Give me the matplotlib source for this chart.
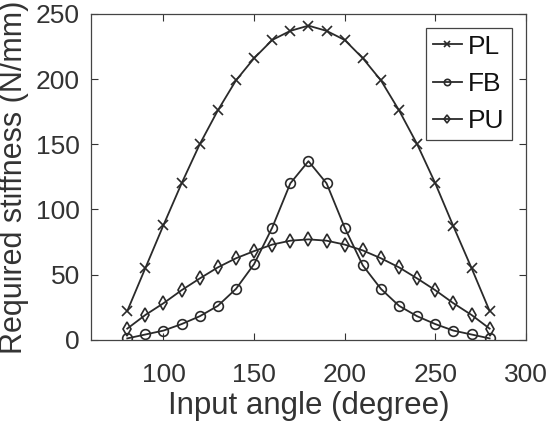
import matplotlib
matplotlib.use('Agg')
import matplotlib.pyplot as plt

plt.rcParams['font.family'] = ['Liberation Sans', 'DejaVu Sans']

angle = [80, 90, 100, 110, 120, 130, 140, 150, 160, 170, 180,
         190, 200, 210, 220, 230, 240, 250, 260, 270, 280]
pl = [22, 55, 88, 120, 150, 176, 199, 216, 230, 237, 241,
      237, 230, 216, 199, 176, 150, 120, 87, 55, 22]
fb = [1, 4, 7, 12, 18, 26, 39, 58, 86, 120, 137,
      120, 86, 57, 39, 26, 18, 12, 7, 4, 1]
pu = [8.5, 19, 28, 38, 47, 55.5, 62.5, 68, 73, 76, 77,
      76, 73, 68.5, 62.5, 55.5, 47, 38, 28, 19, 8.5]

xticks = [100, 150, 200, 250, 300]
yticks = [0, 50, 100, 150, 200, 250]

text_col = '#333333'
line_col = '#2a2a2a'

fig = plt.figure(figsize=(5.47, 4.22), dpi=100)
ax = fig.add_axes([0.1664, 0.195, 0.795, 0.772])

ax.plot(angle, pl, color=line_col, lw=1.3, marker='x', ms=7, mew=1.2, label='PL')
ax.plot(angle, fb, color=line_col, lw=1.3, marker='o', ms=7, mew=1.2, mfc='none', label='FB')
ax.plot(angle, pu, color=line_col, lw=1.3, marker='d', ms=7, mew=1.2, mfc='none', label='PU')

ax.set_xlim(60, 300)
ax.set_ylim(0, 250)
ax.set_xticks(xticks)
ax.set_yticks(yticks)
ax.tick_params(direction='in', top=True, right=True, length=5, width=0.8,
               colors=text_col, labelsize=19)
ax.tick_params(axis='x', pad=17)
ax.tick_params(axis='y', pad=8)
for s in ax.spines.values():
    s.set_color('#444444')
    s.set_linewidth(0.9)

ax.set_xlabel('Input angle (degree)', fontsize=22.5, color=text_col, labelpad=2.5)
ax.set_ylabel('Required stiffness (N/mm)', fontsize=22, color=text_col, labelpad=5)

leg = ax.legend(loc='upper right', bbox_to_anchor=(0.968, 0.958), fontsize=19,
                handlelength=1.1, handletextpad=0.25, borderpad=0.27,
                labelspacing=0.5, fancybox=False, framealpha=1,
                borderaxespad=0, markerscale=0.65)
leg.get_frame().set_edgecolor('#444444')
leg.get_frame().set_linewidth(0.9)
for t in leg.get_texts():
    t.set_color('#111111')

fig.savefig('out.png', dpi=100)
